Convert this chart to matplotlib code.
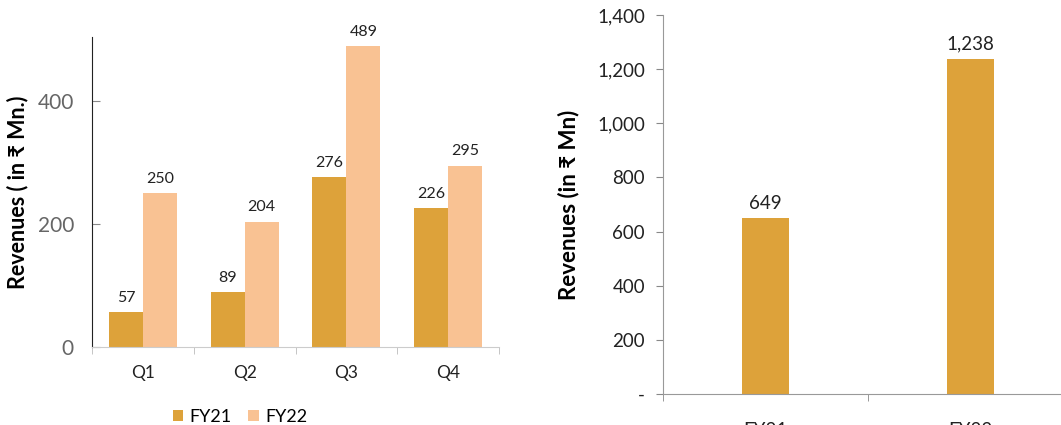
import matplotlib
matplotlib.use("Agg")
import matplotlib.pyplot as plt
import numpy as np
from matplotlib.ticker import FuncFormatter, FixedLocator, NullFormatter

plt.rcParams['font.family'] = ['Lato', 'DejaVu Sans']

quarters = ['Q1', 'Q2', 'Q3', 'Q4']
fy21_q = [57, 89, 276, 226]
fy22_q = [250, 204, 489, 295]
series_names = ['FY21', 'FY22']
years = ['FY21', 'FY22']
annual = [649, 1238]

c21 = '#DDA23A'
c22 = '#F9C293'

W, H = 1061, 425
fig = plt.figure(figsize=(W / 100, H / 100), dpi=100)

# Left chart
ax1 = fig.add_axes([92 / W, (H - 347) / H, 407 / W, 310 / H])
x = np.arange(len(quarters))
bw = 0.333
b1 = ax1.bar(x - bw / 2, fy21_q, bw, color=c21, label=series_names[0])
b2 = ax1.bar(x + bw / 2, fy22_q, bw, color=c22, label=series_names[1])
for rects, vals in ((b1, fy21_q), (b2, fy22_q)):
    for r, v in zip(rects, vals):
        ax1.text(r.get_x() + r.get_width() / 2, v + 12, f"{v}", ha='center', va='bottom',
                 fontsize=11.5, color='#222222')
ax1.set_xlim(-0.5, 3.5)
ax1.set_ylim(0, 504)
ax1.set_yticks([0, 200, 400])
ax1.tick_params(axis='y', direction='in', length=6, labelsize=15, labelcolor='#666666', color='#888888', pad=13)
ax1.set_xticks(x)
ax1.set_xticklabels(quarters)
ax1.tick_params(axis='x', which='major', length=0, labelsize=12.5, pad=13, labelcolor='#222222')
ax1.xaxis.set_minor_locator(FixedLocator([-0.5, 0.5, 1.5, 2.5, 3.5]))
ax1.xaxis.set_minor_formatter(NullFormatter())
ax1.tick_params(axis='x', which='minor', length=5, color='#BBBBBB', direction='out')
for s in ('top', 'right'):
    ax1.spines[s].set_visible(False)
ax1.spines['left'].set_color('#222222')
ax1.spines['bottom'].set_color('#CCCCCC')
ax1.set_ylabel('Revenues ( in ₹ Mn.)', fontsize=15.5, fontweight='bold')
ax1.yaxis.set_label_coords(-0.157, 0.5)

fig.legend(handles=[b1, b2], labels=series_names, loc='center', bbox_to_anchor=(240 / W, (H - 417) / H),
           ncol=2, frameon=False, fontsize=13, handlelength=0.6, handleheight=0.6, columnspacing=0.9,
           handletextpad=0.35)

# Right chart
ax2 = fig.add_axes([663 / W, (H - 394) / H, 410 / W, 379 / H])
xp = np.arange(len(years))
bars = ax2.bar(xp, annual, 0.225, color=c21)
for r, v in zip(bars, annual):
    ax2.text(r.get_x() + r.get_width() / 2, v + 25, f"{v:,}", ha='center', va='bottom',
             fontsize=13.5, color='#222222')
ax2.set_xlim(-0.5, 1.5)
ax2.set_ylim(0, 1400)
ax2.set_yticks(np.arange(0, 1401, 200))
ax2.yaxis.set_major_formatter(FuncFormatter(lambda v, p: '-' if v == 0 else f"{int(v):,}"))
ax2.tick_params(axis='y', direction='out', length=5, labelsize=13.5, color='#888888', labelcolor='#222222', pad=8)
ax2.set_xticks(xp)
ax2.set_xticklabels(years)
ax2.tick_params(axis='x', which='major', length=0, labelsize=13.5, pad=20, labelcolor='#222222')
ax2.xaxis.set_minor_locator(FixedLocator([-0.5, 0.5, 1.5]))
ax2.xaxis.set_minor_formatter(NullFormatter())
ax2.tick_params(axis='x', which='minor', length=5, color='#888888', direction='out')
for s in ('top', 'right'):
    ax2.spines[s].set_visible(False)
ax2.spines['left'].set_color('#999999')
ax2.spines['bottom'].set_color('#999999')
ax2.set_ylabel('Revenues (in ₹ Mn)', fontsize=16, fontweight='bold')
ax2.yaxis.set_label_coords(-0.205, 0.5)

fig.savefig('out.png', dpi=100)
